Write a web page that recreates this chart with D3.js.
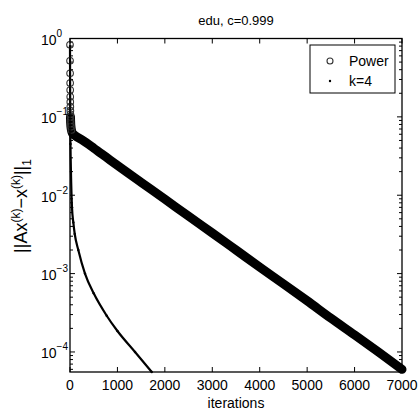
<!DOCTYPE html>
<html>
<head>
<meta http-equiv="Content-Type" content="text/html; charset=utf-8" />
<script src="https://cdn.jsdelivr.net/npm/d3@7"></script>
<title>edu power</title>
<style>
  body { margin: 0; background: #fff; }
  text { font-family: "Liberation Sans", Arial, sans-serif; fill: #000; }
</style>
</head>
<body>
<svg width="419" height="414" id="mainsvg"></svg>
<script>
// values
const powerIter = [0, 1, 2, 3, 4, 5, 6, 7, 8, 9, 10, 12, 15, 20, 30, 50, 100, 250, 500, 750, 1000,
  1500, 2000, 2500, 3000, 3500, 4000, 4500, 5000, 5500, 6000, 6500, 7000];
const powerVal = [0.83, 0.52, 0.36, 0.27, 0.22, 0.18, 0.155, 0.135, 0.12, 0.108, 0.1, 0.09, 0.082, 0.075,
  0.068, 0.062, 0.058, 0.051, 0.040, 0.031, 0.024, 0.0146, 0.0089, 0.0054, 0.0033, 0.0020, 0.00121,
  0.00074, 0.00045, 0.00027, 0.000165, 0.0001, 0.00006];

const k4Iter = [0, 2, 5, 10, 20, 42, 70, 100, 175, 316, 500, 774, 1000, 1371, 1724];
const k4Val = [0.8, 0.3, 0.1, 0.045, 0.02, 0.007, 0.0045, 0.0032, 0.002, 0.001, 0.00056, 0.00029,
  0.000185, 0.0001, 0.0000555];

const xTicks = [0, 1000, 2000, 3000, 4000, 5000, 6000, 7000];
const yTicks = [1e-4, 1e-3, 1e-2, 1e-1, 1];
const yExp = ["-4", "-3", "-2", "-1", "0"];
const legendNames = ["Power", "k=4"];

let svg = d3.select("#mainsvg");
const L = 70, R = 402, T = 38.5, B = 372;

let x = d3.scaleLinear().domain([0, 7000]).range([L, R]);
let y = d3.scaleLog().domain([5.55e-5, 1]).range([B, T]);

const power = powerIter.map((k, i) => ({k: k, v: powerVal[i]}));
const k4 = k4Iter.map((k, i) => ({k: k, v: k4Val[i]}));

// ticks (inside, all four sides)
let minor = [];
for (let e = -5; e < 0; e++) {
  for (let m = 2; m <= 9; m++) {
    let v = m * Math.pow(10, e);
    if (v >= 5.55e-5 && v <= 1) minor.push(v);
  }
}
let g = svg.append("g").attr("stroke", "#000").attr("stroke-width", 1);
g.selectAll(".ymaj").data(yTicks).join("path").attr("class", "ymaj")
  .attr("d", d => `M${L},${y(d)}h5M${R},${y(d)}h-5`);
g.selectAll(".ymin").data(minor).join("path").attr("class", "ymin")
  .attr("d", d => `M${L},${y(d)}h3M${R},${y(d)}h-3`);
g.selectAll(".xt").data(xTicks).join("path").attr("class", "xt")
  .attr("d", d => `M${x(d)},${B}v-5M${x(d)},${T}v5`);

// k=4 curve
let line = d3.line().x(d => x(d.k)).y(d => y(d.v)).curve(d3.curveMonotoneX);
svg.append("path").datum(k4).attr("d", line)
  .attr("fill", "none").attr("stroke", "#000").attr("stroke-width", 2.2);
svg.selectAll(".k4dot").data(k4).join("circle").attr("class", "k4dot")
  .attr("cx", d => x(d.k)).attr("cy", d => y(d.v)).attr("r", 1.2).attr("fill", "#000");

// Power: markers so dense they form a band
svg.append("path").datum(power.filter(d => d.k >= 10))
  .attr("d", d3.line().x(d => x(d.k)).y(d => y(d.v)).curve(d3.curveMonotoneX))
  .attr("fill", "none").attr("stroke", "#000").attr("stroke-width", 9)
  .attr("stroke-linecap", "round").attr("stroke-linejoin", "round");
svg.selectAll(".pw").data(power.filter(d => d.k <= 30)).join("circle").attr("class", "pw")
  .attr("cx", d => x(d.k)).attr("cy", d => y(d.v)).attr("r", 3.3)
  .attr("fill", "none").attr("stroke", "#333").attr("stroke-width", 1.1);

// frame
svg.append("rect").attr("x", L).attr("y", T).attr("width", R - L).attr("height", B - T)
  .attr("fill", "none").attr("stroke", "#000").attr("stroke-width", 1.3);

// tick labels
svg.selectAll(".xl").data(xTicks).join("text").attr("class", "xl")
  .attr("x", d => x(d)).attr("y", 390).attr("text-anchor", "middle")
  .attr("font-size", 14).text(d => d);

let yl = svg.selectAll(".yl").data(yTicks).join("text").attr("class", "yl")
  .attr("x", 41).attr("y", d => y(d) + 6.5).attr("font-size", 14);
yl.append("tspan").text("10");
yl.append("tspan").attr("dy", -8).attr("font-size", 10).text((d, i) => yExp[i].replace("-", "\u2212"));

// title and axis labels
svg.append("text").attr("x", (L + R) / 2).attr("y", 25).attr("text-anchor", "middle")
  .attr("font-size", 13).text("edu, c=0.999");
svg.append("text").attr("x", (L + R) / 2).attr("y", 408).attr("text-anchor", "middle")
  .attr("font-size", 14).text("iterations");

let ylab = svg.append("text").attr("transform", "translate(27,206) rotate(-90)")
  .attr("text-anchor", "middle").attr("font-size", 18);
ylab.append("tspan").text("||Ax");
ylab.append("tspan").attr("dy", -7).attr("font-size", 12).text("(k)");
ylab.append("tspan").attr("dy", 7).text("\u2212x");
ylab.append("tspan").attr("dy", -7).attr("font-size", 12).text("(k)");
ylab.append("tspan").attr("dy", 7).text("||");
ylab.append("tspan").attr("dy", 4).attr("font-size", 12).text("1");

// legend
let lg = svg.append("g");
lg.append("rect").attr("x", 310).attr("y", 45).attr("width", 85).attr("height", 48)
  .attr("fill", "#fff").attr("stroke", "#000").attr("stroke-width", 1);
lg.selectAll(".lt").data(legendNames).join("text").attr("class", "lt")
  .attr("x", 349).attr("y", (d, i) => 66 + i * 20).attr("font-size", 14).text(d => d);
lg.append("circle").attr("cx", 330).attr("cy", 61).attr("r", 3)
  .attr("fill", "none").attr("stroke", "#333").attr("stroke-width", 1.1);
lg.append("circle").attr("cx", 330).attr("cy", 81).attr("r", 1.2).attr("fill", "#000");
</script>
</body>
</html>
